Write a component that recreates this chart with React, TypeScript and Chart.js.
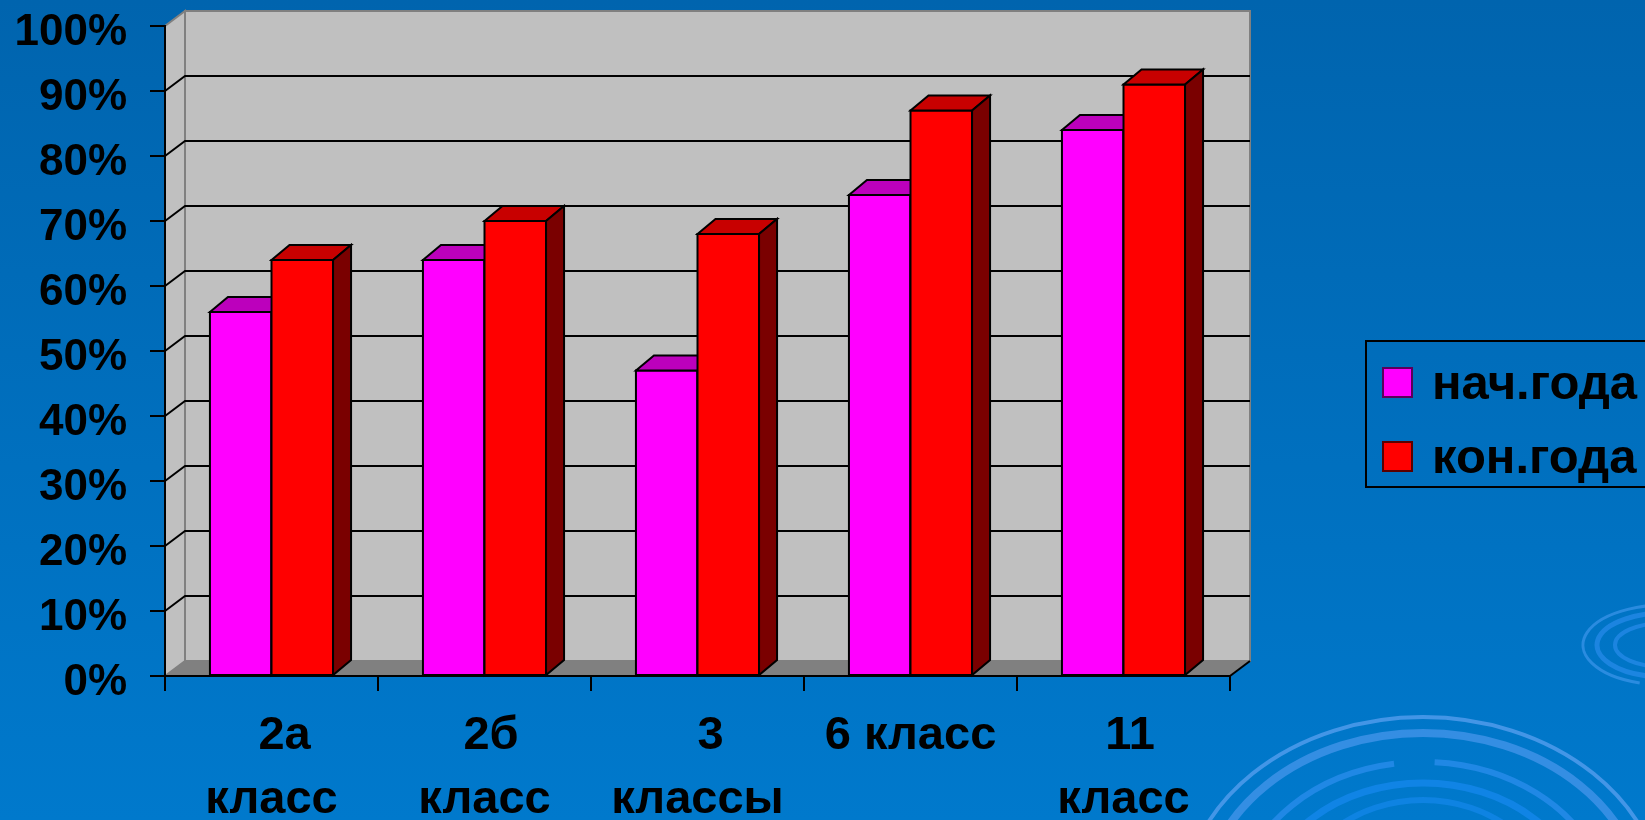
import React, { useEffect, useRef } from "react";
import { Chart, registerables } from "chart.js";

Chart.register(...registerables);

// ---- data ----
const categories: (string | string[])[] = [
  ["  2а", "класс"],
  [" 2б", "класс"],
  ["  3", "классы"],
  "6 класс",
  [" 11", "класс"],
];
const seriesNames = ["нач.года", "кон.года"];
const startValues = [56, 64, 47, 74, 84];
const endValues = [64, 70, 68, 87, 91];
const yMin = 0;
const yMax = 100;
const yStep = 10;

// ---- styles ----
const frontColors = ["#FF00FF", "#FF0000"];
const topColors = ["#BC00BC", "#C80000"];
const sideColors = ["#800080", "#7A0000"];
const legendBorders = ["#5A005A", "#5A0000"];
const FONT = "'Liberation Sans', Arial, sans-serif";
const WALL_DX = 20;
const WALL_DY = 15;
const BAR_DX = 18;
const BAR_DY = 15;

const threeDPlugin = {
  id: "threeD",
  beforeDraw(chart: any) {
    const { ctx, width, height } = chart;
    ctx.save();
    const g = ctx.createLinearGradient(0, 0, 0, height);
    g.addColorStop(0, "#0064AE");
    g.addColorStop(1, "#0079CC");
    ctx.fillStyle = g;
    ctx.fillRect(0, 0, width, height);

    // decorative ripples
    const ripple = (cx: number, cy: number, rx: number, ry: number, lw: number, col: string, a0: number, a1: number) => {
      ctx.beginPath();
      ctx.ellipse(cx, cy, rx, ry, 0, a0, a1);
      ctx.strokeStyle = col;
      ctx.lineWidth = lw;
      ctx.stroke();
    };
    const P = Math.PI;
    ripple(1423, 910, 241, 193, 4, "rgba(90,160,240,0.75)", P, 2 * P);
    ripple(1423, 910, 221, 177, 8, "rgba(70,150,235,0.75)", P, 2 * P);
    ripple(1423, 910, 185, 148, 6, "rgba(40,140,235,0.8)", P * 1.05, P * 1.45);
    ripple(1423, 910, 185, 148, 6, "rgba(40,140,235,0.8)", P * 1.52, P * 1.9);
    ripple(1423, 910, 160, 127, 7, "rgba(20,135,235,0.8)", P, 2 * P);
    ripple(1423, 910, 130, 110, 6, "rgba(20,135,235,0.7)", P, 2 * P);
    ripple(1665, 645, 82, 40, 3, "rgba(60,150,235,0.7)", P * 0.6, P * 1.6);
    ripple(1665, 645, 68, 32, 5, "rgba(40,140,235,0.7)", P * 0.55, P * 1.55);
    ripple(1665, 645, 50, 22, 4, "rgba(40,140,235,0.7)", P * 0.5, P * 1.5);

    // walls
    const { left, right, top, bottom } = chart.chartArea;
    ctx.fillStyle = "#C0C0C0";
    ctx.strokeStyle = "#808080";
    ctx.lineWidth = 2;
    // side wall
    ctx.beginPath();
    ctx.moveTo(left, bottom);
    ctx.lineTo(left, top);
    ctx.lineTo(left + WALL_DX, top - WALL_DY);
    ctx.lineTo(left + WALL_DX, bottom - WALL_DY);
    ctx.closePath();
    ctx.fill();
    ctx.stroke();
    // back wall
    ctx.beginPath();
    ctx.rect(left + WALL_DX, top - WALL_DY, right - left, bottom - top);
    ctx.fill();
    ctx.stroke();
    // floor
    ctx.fillStyle = "#808080";
    ctx.beginPath();
    ctx.moveTo(left, bottom);
    ctx.lineTo(right, bottom);
    ctx.lineTo(right + WALL_DX, bottom - WALL_DY);
    ctx.lineTo(left + WALL_DX, bottom - WALL_DY);
    ctx.closePath();
    ctx.fill();
    ctx.strokeStyle = "#000";
    ctx.beginPath();
    ctx.moveTo(right, bottom);
    ctx.lineTo(right + WALL_DX, bottom - WALL_DY);
    ctx.stroke();

    // gridlines on back wall + connectors on side wall
    const yScale = chart.scales.y;
    ctx.strokeStyle = "#000";
    ctx.lineWidth = 2;
    for (let v = yMin + yStep; v < yMax; v += yStep) {
      const y = Math.round(yScale.getPixelForValue(v));
      ctx.beginPath();
      ctx.moveTo(left, y);
      ctx.lineTo(left + WALL_DX, y - WALL_DY);
      ctx.lineTo(right + WALL_DX, y - WALL_DY);
      ctx.stroke();
    }
    ctx.restore();
  },
  afterDatasetsDraw(chart: any) {
    const { ctx } = chart;
    ctx.save();
    ctx.lineWidth = 2;
    ctx.strokeStyle = "#000";
    ctx.lineJoin = "miter";
    const n = chart.data.labels.length;
    for (let i = 0; i < n; i++) {
      chart.data.datasets.forEach((ds: any, d: number) => {
        const bar = chart.getDatasetMeta(d).data[i];
        if (!bar) return;
        const x0 = bar.x - bar.width / 2;
        const x1 = bar.x + bar.width / 2;
        const yT = bar.y;
        const yB = bar.base;
        // front
        ctx.fillStyle = frontColors[d];
        ctx.beginPath();
        ctx.rect(x0, yT, x1 - x0, yB - yT);
        ctx.fill();
        ctx.stroke();
        // top
        ctx.fillStyle = topColors[d];
        ctx.beginPath();
        ctx.moveTo(x0, yT);
        ctx.lineTo(x0 + BAR_DX, yT - BAR_DY);
        ctx.lineTo(x1 + BAR_DX, yT - BAR_DY);
        ctx.lineTo(x1, yT);
        ctx.closePath();
        ctx.fill();
        ctx.stroke();
        // side
        ctx.fillStyle = sideColors[d];
        ctx.beginPath();
        ctx.moveTo(x1, yT);
        ctx.lineTo(x1 + BAR_DX, yT - BAR_DY);
        ctx.lineTo(x1 + BAR_DX, yB - BAR_DY);
        ctx.lineTo(x1, yB);
        ctx.closePath();
        ctx.fill();
        ctx.stroke();
      });
    }
    ctx.restore();
  },
  afterDraw(chart: any) {
    const { ctx } = chart;
    ctx.save();
    // y-axis tick labels (from the scale's own ticks)
    const yScale = chart.scales.y;
    ctx.font = `bold 44px ${FONT}`;
    ctx.fillStyle = "#000";
    ctx.textAlign = "right";
    ctx.textBaseline = "middle";
    yScale.ticks.forEach((t: any) => {
      const y = yScale.getPixelForValue(t.value);
      ctx.fillText(`${t.value}%`, 127, y + 7);
    });

    // legend
    ctx.strokeStyle = "#000";
    ctx.lineWidth = 2;
    ctx.strokeRect(1366, 341, 320, 146);
    ctx.font = `bold 49px ${FONT}`;
    ctx.textBaseline = "alphabetic";
    ctx.textAlign = "left";
    chart.data.datasets.forEach((ds: any, d: number) => {
      const y = 368 + d * 74;
      ctx.fillStyle = frontColors[d];
      ctx.fillRect(1383, y, 29, 29);
      ctx.strokeStyle = legendBorders[d];
      ctx.strokeRect(1383, y, 29, 29);
      ctx.fillStyle = "#000";
      ctx.fillText(ds.label, 1432, y + 31);
    });
    ctx.restore();
  },
};

export default function App() {
  const ref = useRef<HTMLCanvasElement>(null);
  useEffect(() => {
    document.body.style.margin = "0";
    const canvas = ref.current!;
    const chart = new Chart(canvas, {
      type: "bar",
      data: {
        labels: categories as any,
        datasets: [
          { label: seriesNames[0], data: startValues, backgroundColor: frontColors[0], borderColor: "#000", borderWidth: 2 },
          { label: seriesNames[1], data: endValues, backgroundColor: frontColors[1], borderColor: "#000", borderWidth: 2 },
        ],
      },
      options: {
        responsive: false,
        animation: false,
        devicePixelRatio: 1,
        layout: { padding: { top: 26, right: 415, left: 0, bottom: 0 } },
        plugins: { legend: { display: false }, tooltip: { enabled: false }, title: { display: false } },
        datasets: { bar: { categoryPercentage: 0.578, barPercentage: 1 } } as any,
        scales: {
          x: {
            offset: true,
            grid: { offset: true, drawOnChartArea: false, drawTicks: true, tickLength: 15, color: "#000", lineWidth: 2 },
            border: { display: true, color: "#000", width: 2 },
            ticks: {
              color: "#000",
              padding: 13,
              maxRotation: 0,
              autoSkip: false,
              font: { family: FONT, size: 47, weight: "bold", lineHeight: 1.36 },
            },
            afterFit: (s: any) => {
              s.height = 144;
            },
          },
          y: {
            min: yMin,
            max: yMax,
            grid: { drawOnChartArea: false, drawTicks: true, tickLength: 15, color: "#000", lineWidth: 2 },
            border: { display: true, color: "#000", width: 2 },
            ticks: {
              display: false,
              stepSize: yStep,
            },
            afterFit: (s: any) => {
              s.width = 165;
            },
          },
        },
      },
      plugins: [threeDPlugin],
    });
    return () => chart.destroy();
  }, []);
  return (
    <div style={{ position: "fixed", left: 0, top: 0, width: 1645, height: 820 }}>
      <canvas ref={ref} width={1645} height={820} style={{ display: "block", width: 1645, height: 820 }} />
    </div>
  );
}
